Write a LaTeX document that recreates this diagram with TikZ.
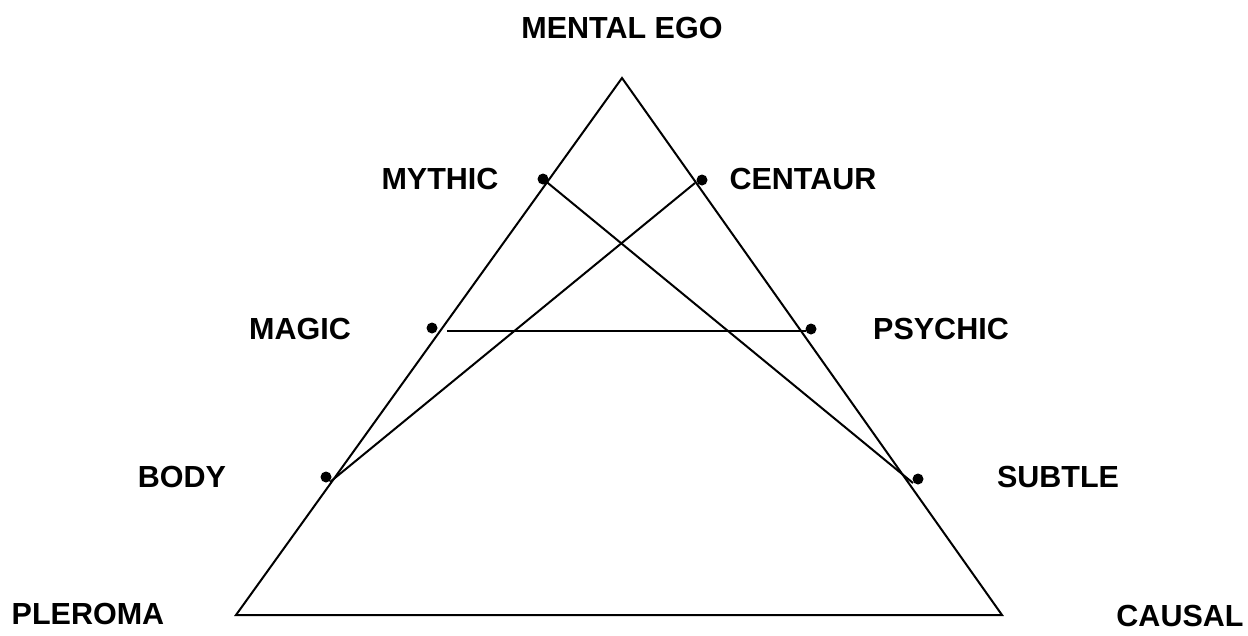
\documentclass[tikz,border=0pt]{standalone}
\usepackage{fontspec}
\setmainfont{Liberation Sans}
\begin{document}
\begin{tikzpicture}[x=1pt,y=-1pt,
  lab/.style={font=\bfseries\fontsize{30.5}{31}\selectfont, inner sep=0pt, anchor=center},
  edge/.style={line width=2pt, black},
  dotpt/.style={circle, fill=black, inner sep=0pt, minimum size=11pt}]
\useasboundingbox (0,0) rectangle (1248,635);
% triangle corners
\coordinate (top) at (622,78);
\coordinate (bl) at (236,615);
\coordinate (br) at (1002,615);
\draw[edge, line join=miter] (top) -- (bl) -- (br) -- cycle;
% dots
\node[dotpt] (dmythic) at (543,179) {};
\node[dotpt] (dcentaur) at (702,180) {};
\node[dotpt] (dmagic) at (432,328) {};
\node[dotpt] (dpsychic) at (811,329) {};
\node[dotpt] (dbody) at (326,477) {};
\node[dotpt] (dsubtle) at (918,479) {};
% line ends on the triangle sides
\coordinate (cA) at (695,183);
\coordinate (cB) at (330,482);
\coordinate (sA) at (913,483);
\coordinate (mA) at (447,331);
\coordinate (pA) at (806,331);
\draw[edge] (dmythic.center) -- (sA);
\draw[edge] (cA) -- (cB);
\draw[edge] (mA) -- (pA);
% labels
\node[lab] (mental) at (622,28) {MENTAL EGO};
\node[lab] (mythic) at (440,179) {MYTHIC};
\node[lab] (centaur) at (803,179) {CENTAUR};
\node[lab] (magic) at (300,329) {MAGIC};
\node[lab] (psychic) at (941,329) {PSYCHIC};
\node[lab] (body) at (182,477) {BODY};
\node[lab] (subtle) at (1058,477) {SUBTLE};
\node[lab] (pleroma) at (88,614) {PLEROMA};
\node[lab] (causal) at (1180,616) {CAUSAL};
\end{tikzpicture}
\end{document}
